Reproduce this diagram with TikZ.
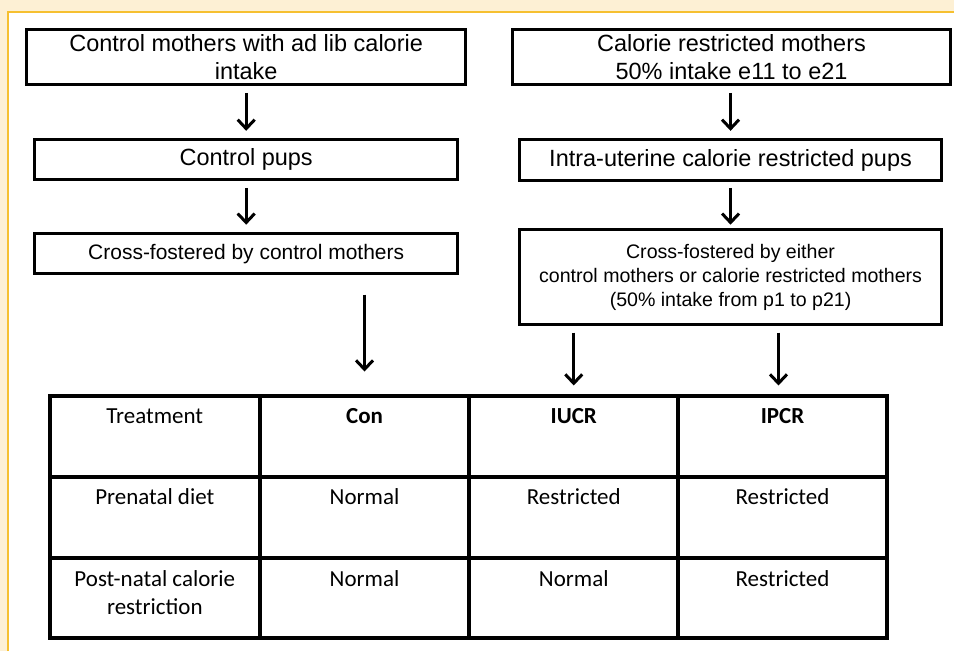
\documentclass[tikz,border=0pt]{standalone}
\usepackage{fontspec}
\setmainfont{Liberation Sans}
\newfontfamily\tabfont{Carlito}
\usetikzlibrary{arrows.meta}
\definecolor{bgcream}{RGB}{253,240,212}
\definecolor{frameyellow}{RGB}{246,192,48}
\begin{document}
\begin{tikzpicture}[x=1pt,y=-1pt,
  box/.style={draw,line width=3pt,align=center,inner sep=0pt,outer sep=0pt},
  bigtxt/.style={font=\fontsize{23.5}{28}\selectfont},
  midtxt/.style={font=\fontsize{21}{25}\selectfont},
  smalltxt/.style={font=\fontsize{19.6}{24}\selectfont},
  arr/.style={line width=3pt,-{Straight Barb[length=9pt,width=17pt]}},
  cell/.style={draw,line width=4pt,minimum width=209pt,minimum height=81pt,inner sep=0pt,outer sep=0pt},
  ctext/.style={font=\tabfont\fontsize{23}{28}\selectfont,align=center,anchor=base,inner sep=0pt}
]
\fill[bgcream] (0,0) rectangle (955,652);
\fill[white] (8,12) rectangle (955,652);
\draw[frameyellow,line width=2.5pt] (8,652) -- (8,12) -- (955,12);
\useasboundingbox (0,0) rectangle (955,652);

% flow boxes
\node[box,bigtxt,minimum width=439pt,minimum height=55pt] (a) at (246.5,57.5) {Control mothers with ad lib calorie\\intake};
\node[box,bigtxt,minimum width=439pt,minimum height=55pt] (b) at (732.5,57.5) {Calorie restricted mothers\\50\% intake e11 to e21};
\node[box,bigtxt,minimum width=423pt,minimum height=40pt] (c) at (246.5,160) {Control pups};
\node[box,bigtxt,minimum width=423pt,minimum height=41pt] (d) at (731.5,160.5) {Intra-uterine calorie restricted pups};
\node[box,midtxt,minimum width=423pt,minimum height=40pt] (e) at (246.5,254) {Cross-fostered by control mothers};
\node[box,smalltxt,minimum width=423pt,minimum height=95pt] (f) at (731.5,277.5) {Cross-fostered by either\\control mothers or calorie restricted mothers\\(50\% intake from p1 to p21)};

% table cells
\node[cell,minimum width=210pt] (h1) at (155,437.5) {};
\node[cell,minimum width=210pt] (h2) at (365,437.5) {};
\node[cell] (h3) at (574.5,437.5) {};
\node[cell] (h4) at (783.5,437.5) {};
\node[cell,minimum width=210pt] (p1) at (155,518.5) {};
\node[cell,minimum width=210pt] (p2) at (365,518.5) {};
\node[cell] (p3) at (574.5,518.5) {};
\node[cell] (p4) at (783.5,518.5) {};
\node[cell,minimum width=210pt,minimum height=80pt] (n1) at (155,599) {};
\node[cell,minimum width=210pt,minimum height=80pt] (n2) at (365,599) {};
\node[cell,minimum height=80pt] (n3) at (574.5,599) {};
\node[cell,minimum height=80pt] (n4) at (783.5,599) {};

\node[ctext] (th1) at ([yshift=-27pt]h1.north) {Treatment};
\node[ctext] (th2) at ([yshift=-27pt]h2.north) {\bfseries Con};
\node[ctext] (th3) at ([yshift=-27pt]h3.north) {\bfseries IUCR};
\node[ctext] (th4) at ([yshift=-27pt]h4.north) {\bfseries IPCR};
\node[ctext] (tp1) at ([yshift=-27pt]p1.north) {Prenatal diet};
\node[ctext] (tp2) at ([yshift=-27pt]p2.north) {Normal};
\node[ctext] (tp3) at ([yshift=-27pt]p3.north) {Restricted};
\node[ctext] (tp4) at ([yshift=-27pt]p4.north) {Restricted};
\node[ctext] (tn1) at ([yshift=-56pt]n1.north) {Post-natal calorie\\restriction};
\node[ctext] (tn2) at ([yshift=-28pt]n2.north) {Normal};
\node[ctext] (tn3) at ([yshift=-28pt]n3.north) {Normal};
\node[ctext] (tn4) at ([yshift=-28pt]n4.north) {Restricted};

% arrows
\draw[arr] ([yshift=-8pt]a.south -| c.north) -- ([yshift=9pt]c.north);
\draw[arr] ([yshift=-8pt]b.south -| d.north) -- ([yshift=9pt]d.north);
\draw[arr] ([yshift=-8pt]c.south) -- ([yshift=9pt]e.north);
\draw[arr] ([yshift=-7pt]d.south) -- ([yshift=5pt]f.north);
\draw[arr] ([yshift=-21pt]e.south -| h2.north) -- ([yshift=25pt]h2.north);
\draw[arr] ([yshift=-8pt]f.south -| h3.north) -- ([yshift=11pt]h3.north);
\draw[arr] ([yshift=-8pt,xshift=-4pt]f.south -| h4.north) -- ([yshift=11pt,xshift=-4pt]h4.north);
\end{tikzpicture}
\end{document}
